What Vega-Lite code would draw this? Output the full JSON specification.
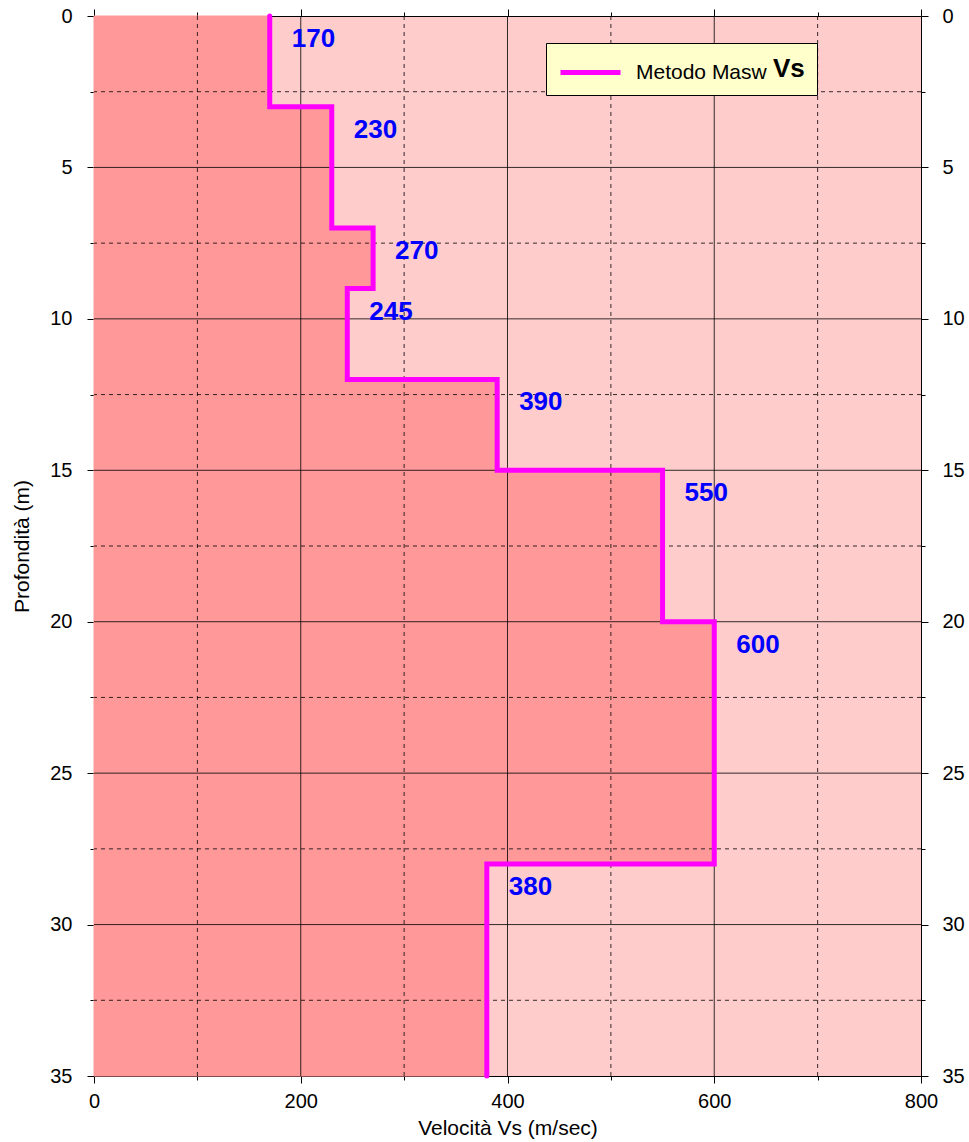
{
  "$schema": "https://vega.github.io/schema/vega-lite/v6.json",
  "width": 827,
  "height": 1060,
  "autosize": {"type": "none"},
  "padding": {"left": 94, "top": 16, "right": 48, "bottom": 66},
  "background": "white",
  "config": {
    "font": "Liberation Sans",
    "view": {"fill": "#FFCCCC", "stroke": null},
    "axis": {
      "domainColor": "#000",
      "domainWidth": 1,
      "tickColor": "#000",
      "labelColor": "#000",
      "labelFont": "Liberation Sans",
      "labelFontSize": 20,
      "titleFont": "Liberation Sans",
      "titleFontSize": 21,
      "titleFontWeight": "normal",
      "titleColor": "#000",
      "grid": false,
      "labelOverlap": false,
      "labelFlush": false,
      "zindex": 1
    }
  },
  "datasets": {
    "layers": [
      {"top": 0, "bottom": 3, "vs": 170},
      {"top": 3, "bottom": 7, "vs": 230},
      {"top": 7, "bottom": 9, "vs": 270},
      {"top": 9, "bottom": 12, "vs": 245},
      {"top": 12, "bottom": 15, "vs": 390},
      {"top": 15, "bottom": 20, "vs": 550},
      {"top": 20, "bottom": 28, "vs": 600},
      {"top": 28, "bottom": 35, "vs": 380}
    ],
    "profile": [
      {"seq": 1, "vs": 170, "depth": 0},
      {"seq": 2, "vs": 170, "depth": 3},
      {"seq": 3, "vs": 230, "depth": 3},
      {"seq": 4, "vs": 230, "depth": 7},
      {"seq": 5, "vs": 270, "depth": 7},
      {"seq": 6, "vs": 270, "depth": 9},
      {"seq": 7, "vs": 245, "depth": 9},
      {"seq": 8, "vs": 245, "depth": 12},
      {"seq": 9, "vs": 390, "depth": 12},
      {"seq": 10, "vs": 390, "depth": 15},
      {"seq": 11, "vs": 550, "depth": 15},
      {"seq": 12, "vs": 550, "depth": 20},
      {"seq": 13, "vs": 600, "depth": 20},
      {"seq": 14, "vs": 600, "depth": 28},
      {"seq": 15, "vs": 380, "depth": 28},
      {"seq": 16, "vs": 380, "depth": 35}
    ],
    "gridx": [
      {"v": 100, "kind": "minor"},
      {"v": 200, "kind": "major"},
      {"v": 300, "kind": "minor"},
      {"v": 400, "kind": "major"},
      {"v": 500, "kind": "minor"},
      {"v": 600, "kind": "major"},
      {"v": 700, "kind": "minor"}
    ],
    "gridy": [
      {"d": 2.5, "kind": "minor"},
      {"d": 5, "kind": "major"},
      {"d": 7.5, "kind": "minor"},
      {"d": 10, "kind": "major"},
      {"d": 12.5, "kind": "minor"},
      {"d": 15, "kind": "major"},
      {"d": 17.5, "kind": "minor"},
      {"d": 20, "kind": "major"},
      {"d": 22.5, "kind": "minor"},
      {"d": 25, "kind": "major"},
      {"d": 27.5, "kind": "minor"},
      {"d": 30, "kind": "major"},
      {"d": 32.5, "kind": "minor"}
    ]
  },
  "layer": [
    {
      "data": {"name": "layers"},
      "mark": {"type": "rect", "color": "#FF9999", "stroke": "#FF9999", "strokeWidth": 1},
      "encoding": {
        "x": {
          "field": "vs",
          "type": "quantitative",
          "scale": {"domain": [0, 800], "nice": false, "zero": false},
          "axis": {
            "orient": "bottom",
            "values": [0, 100, 200, 300, 400, 500, 600, 700, 800],
            "labelExpr": "datum.value % 200 == 0 ? datum.label : ''",
            "tickSize": {"condition": {"test": "datum.value % 200 != 0", "value": 4}, "value": 7},
            "labelPadding": 8,
            "title": "Velocità Vs (m/sec)",
            "titleY": 52,
            "titleBaseline": "middle"
          }
        },
        "x2": {"datum": 0},
        "y": {
          "field": "top",
          "type": "quantitative",
          "scale": {"domain": [0, 35], "reverse": true, "nice": false, "zero": false},
          "axis": {
            "orient": "left",
            "values": [0, 2.5, 5, 7.5, 10, 12.5, 15, 17.5, 20, 22.5, 25, 27.5, 30, 32.5, 35],
            "labelExpr": "datum.value % 5 == 0 ? datum.label : ''",
            "tickSize": {"condition": {"test": "datum.value % 5 != 0", "value": 4}, "value": 7},
            "labelPadding": 15,
            "title": "Profondità (m)",
            "titleX": -72,
            "titleY": 530,
            "titleAngle": 270,
            "titleAlign": "center",
            "titleBaseline": "middle"
          }
        },
        "y2": {"field": "bottom"}
      }
    },
    {
      "data": {"name": "gridx"},
      "mark": {"type": "rule", "color": "#000", "strokeWidth": 1, "opacity": 0.8},
      "encoding": {
        "x": {"field": "v", "type": "quantitative", "scale": {"domain": [0, 800], "nice": false, "zero": false}, "axis": null},
        "strokeDash": {"field": "kind", "type": "nominal", "scale": {"domain": ["major", "minor"], "range": [[1, 0], [4, 4]]}, "legend": null}
      }
    },
    {
      "data": {"name": "gridy"},
      "mark": {"type": "rule", "color": "#000", "strokeWidth": 1, "opacity": 0.8},
      "encoding": {
        "y": {"field": "d", "type": "quantitative", "scale": {"domain": [0, 35], "reverse": true, "nice": false, "zero": false}, "axis": null},
        "strokeDash": {"field": "kind", "type": "nominal", "scale": {"domain": ["major", "minor"], "range": [[1, 0], [4, 4]]}, "legend": null}
      }
    },
    {
      "data": {"name": "profile"},
      "mark": {"type": "line", "strokeWidth": 5, "strokeCap": "round", "strokeJoin": "miter"},
      "encoding": {
        "x": {
          "field": "vs",
          "type": "quantitative",
          "scale": {"domain": [0, 800], "nice": false, "zero": false},
          "axis": {
            "orient": "top",
            "values": [0, 100, 200, 300, 400, 500, 600, 700, 800],
            "labels": false,
            "tickSize": {"condition": {"test": "datum.value % 200 != 0", "value": 4}, "value": 7},
            "title": null
          }
        },
        "y": {
          "field": "depth",
          "type": "quantitative",
          "scale": {"domain": [0, 35], "reverse": true, "nice": false, "zero": false},
          "axis": {
            "orient": "right",
            "values": [0, 2.5, 5, 7.5, 10, 12.5, 15, 17.5, 20, 22.5, 25, 27.5, 30, 32.5, 35],
            "labelExpr": "datum.value % 5 == 0 ? datum.label : ''",
            "tickSize": {"condition": {"test": "datum.value % 5 != 0", "value": 4}, "value": 7},
            "labelPadding": 14,
            "title": null
          }
        },
        "order": {"field": "seq", "type": "quantitative"},
        "color": {
          "datum": "Metodo Masw",
          "type": "nominal",
          "scale": {"range": ["#FF00FF"]},
          "legend": {
            "orient": "none",
            "legendX": 452,
            "legendY": 27,
            "title": "Vs",
            "titleOrient": "right",
            "titleFont": "Liberation Sans",
            "titleFontSize": 26,
            "titleFontWeight": "bold",
            "titleColor": "#000",
            "titlePadding": 6,
            "titleAnchor": "middle",
            "titleBaseline": "middle",
            "labelFont": "Liberation Sans",
            "labelFontSize": 21,
            "labelColor": "#000",
            "labelOffset": 28,
            "symbolType": "M-2,0H2",
            "symbolSize": 900,
            "symbolOffset": 15,
            "symbolStrokeWidth": 5,
            "symbolFillColor": "#FF00FF",
            "fillColor": "#FFFFCC",
            "strokeColor": "#000",
            "padding": 12
          }
        }
      }
    },
    {
      "data": {"name": "layers"},
      "mark": {"type": "text", "align": "left", "baseline": "middle", "dx": 22, "dy": 23, "font": "Liberation Sans", "fontSize": 26, "fontWeight": "bold", "color": "#0000FF"},
      "encoding": {
        "x": {"field": "vs", "type": "quantitative", "scale": {"domain": [0, 800], "nice": false, "zero": false}, "axis": null},
        "y": {"field": "top", "type": "quantitative", "scale": {"domain": [0, 35], "reverse": true, "nice": false, "zero": false}, "axis": null},
        "text": {"field": "vs", "type": "quantitative"}
      }
    }
  ],
  "resolve": {"axis": {"x": "independent", "y": "independent"}}
}
